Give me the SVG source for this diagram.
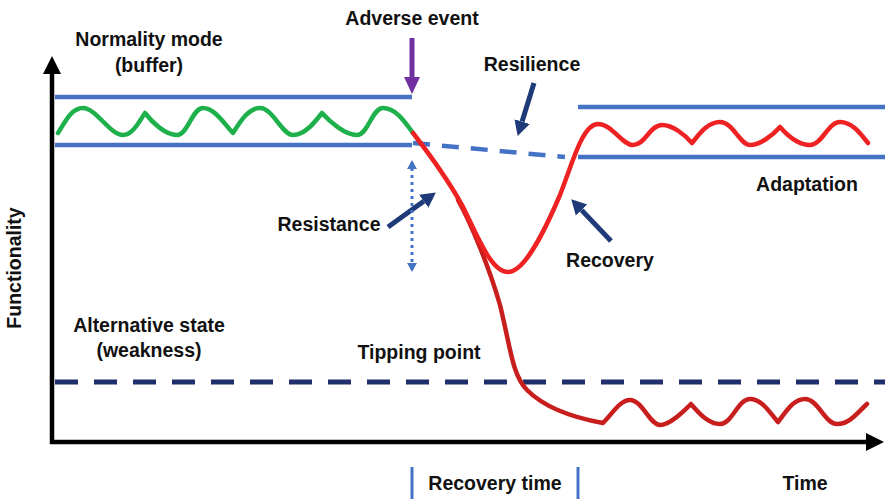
<svg xmlns="http://www.w3.org/2000/svg" width="885" height="499" viewBox="0 0 885 499">
<style>
  .lbl { font-family: "Liberation Sans", Arial, sans-serif; font-weight: bold; font-size: 19.5px; fill: #111; text-anchor: middle; }
  .band { stroke: #4472C4; stroke-width: 4.5; fill: none; }
  .curve { fill: none; stroke-width: 4.5; stroke-linejoin: round; stroke-linecap: round; }
  .navy { stroke: #1F3A78; stroke-width: 5; fill: none; }
</style>
<defs>
  <marker id="navyHead" markerUnits="userSpaceOnUse" markerWidth="16" markerHeight="18" refX="0" refY="8" orient="auto" viewBox="0 0 16 16">
    <path d="M0,0 L15,8 L0,16 z" fill="#1F3A78"/>
  </marker>
</defs>
<rect width="885" height="499" fill="#ffffff"/>

<g id="axes">
  <line x1="52" y1="444" x2="52" y2="72" stroke="#000" stroke-width="4.5"/>
  <polygon points="52,56 43,74 61,74" fill="#000"/>
  <line x1="50" y1="442" x2="868" y2="442" stroke="#000" stroke-width="4.5"/>
  <polygon points="884,442 866,433 866,451" fill="#000"/>
</g>

<g id="bands">
  <line class="band" x1="55" y1="97" x2="412" y2="97"/>
  <line class="band" x1="55" y1="145" x2="412" y2="145"/>
  <line class="band" x1="578" y1="107" x2="885" y2="107"/>
  <line class="band" x1="578" y1="157" x2="885" y2="157"/>
  <line class="band" x1="413" y1="143" x2="565" y2="157" stroke-width="5" stroke-dasharray="17,12"/>
  <line x1="55" y1="382" x2="885" y2="382" stroke="#1F2F6B" stroke-width="5" stroke-dasharray="23,16"/>
</g>

<g id="normal-wave">
  <path class="curve" stroke="#1DB04B" d="M58,133 C66,120 72,108 83,108 C96,108 110,135 123,135 C133,135 140,120 145,113 C152,122 165,135 177,135 C188,135 192,108 203,108 C215,108 225,125 233,133 C240,122 248,108 260,108 C273,108 282,135 293,135 C305,135 315,122 322,113 C330,122 345,135 357,135 C368,135 372,108 383,108 C396,108 405,122 413,133"/>
</g>

<g id="tipping-curve">
  <path class="curve" stroke="#C81E1E" d="M458,200 C472,225 490,270 500,305 C510,345 512,375 527,390 C545,408 575,418 603,423 C612,414 620,400 630,400 C642,400 650,425 660,425 C670,425 683,412 691,404 C698,412 708,424 720,424 C732,424 738,399 750,399 C762,399 770,413 778,422 C786,412 793,399 805,399 C818,399 825,424 837,424 C850,424 858,412 867,404"/>
</g>

<g id="recovery-curve">
  <path class="curve" stroke="#EE2222" d="M413,133 C430,155 448,180 462,205 C475,230 490,272 508,272 C525,272 545,230 560,195 C572,165 582,124 598,124 C612,124 622,145 633,145 C645,145 650,125 662,125 C673,125 685,135 692,143 C700,133 708,122 720,122 C733,122 740,145 750,145 C760,145 773,135 780,127 C787,135 798,145 810,145 C822,145 828,122 840,122 C852,122 860,133 868,143"/>
</g>

<g id="connectors">
  <line x1="412" y1="38" x2="412" y2="78" stroke="#7030A0" stroke-width="5"/>
  <polygon points="412,94 404,77 420,77" fill="#7030A0"/>
  <line class="navy" x1="534" y1="83" x2="522.1" y2="121.6" marker-end="url(#navyHead)"/>
  <line class="navy" x1="388" y1="227" x2="423.7" y2="201.2" marker-end="url(#navyHead)"/>
  <line class="navy" x1="611" y1="241" x2="581.6" y2="210.1" marker-end="url(#navyHead)"/>
  <line x1="412" y1="168" x2="412" y2="264" stroke="#4472C4" stroke-width="3" stroke-dasharray="3,4"/>
  <polygon points="412,160 407,169 417,169" fill="#4472C4"/>
  <polygon points="412,272 407,263 417,263" fill="#4472C4"/>
  <line x1="412" y1="467" x2="412" y2="499" stroke="#4472C4" stroke-width="3"/>
  <line x1="578" y1="467" x2="578" y2="499" stroke="#4472C4" stroke-width="3"/>
</g>

<g id="labels">
  <text class="lbl" x="149" y="46">Normality mode</text>
  <text class="lbl" x="149" y="72">(buffer)</text>
  <text class="lbl" x="412" y="25">Adverse event</text>
  <text class="lbl" x="532" y="71">Resilience</text>
  <text class="lbl" x="329" y="231">Resistance</text>
  <text class="lbl" x="610" y="267">Recovery</text>
  <text class="lbl" x="807" y="191">Adaptation</text>
  <text class="lbl" x="149" y="332">Alternative state</text>
  <text class="lbl" x="149" y="357">(weakness)</text>
  <text class="lbl" x="419" y="359">Tipping point</text>
  <text class="lbl" x="495" y="490">Recovery time</text>
  <text class="lbl" x="805" y="490">Time</text>
  <text class="lbl" transform="translate(21,268) rotate(-90)">Functionality</text>
</g>
</svg>
